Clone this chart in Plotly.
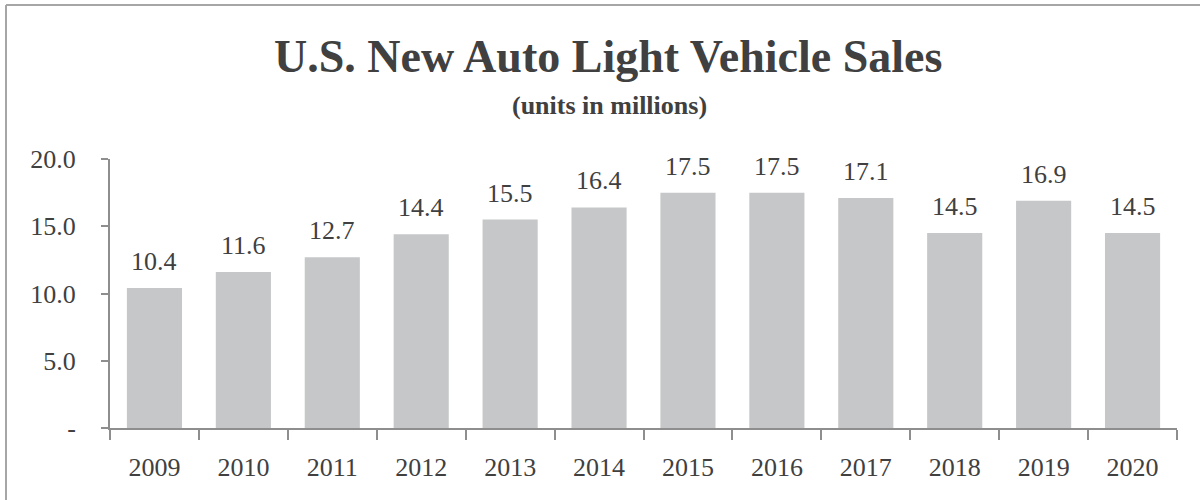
import plotly.graph_objects as go

years = ["2009", "2010", "2011", "2012", "2013", "2014", "2015", "2016", "2017", "2018", "2019", "2020"]
sales = [10.4, 11.6, 12.7, 14.4, 15.5, 16.4, 17.5, 17.5, 17.1, 14.5, 16.9, 14.5]
labels = ["10.4", "11.6", "12.7", "14.4", "15.5", "16.4", "17.5", "17.5", "17.1", "14.5", "16.9", "14.5"]
ytick_vals = [0, 5, 10, 15, 20]
ytick_text = ["-", "5.0", "10.0", "15.0", "20.0"]

FONT = "Liberation Serif, Times New Roman, serif"
TXT = "#404040"
AX = "#8E8E8E"

W, H = 1200, 500
L, R, T, B = 110, 23, 159, 72
pw, ph = W - L - R, H - T - B


def px_x(x):
    return (x - L) / pw


def px_y(y):
    return (H - B - y) / ph


fig = go.Figure(go.Bar(
    x=years, y=sales,
    marker=dict(color="#C6C7C8", line=dict(width=0)),
    cliponaxis=False, hoverinfo="x+y",
))

# annotation x uses the category index on the category axis
annotations = [
    dict(x=i, y=v, text=lab, xref="x", yref="y", xanchor="center", yanchor="bottom",
         yshift=10, showarrow=False, font=dict(family=FONT, size=26, color=TXT))
    for i, (v, lab) in enumerate(zip(sales, labels))
]
annotations += [
    dict(text="<b>U.S. New Auto Light Vehicle Sales</b>", xref="paper", yref="paper",
         x=px_x(608), y=px_y(57), xanchor="center", yanchor="middle", showarrow=False,
         font=dict(family=FONT, size=46, color=TXT)),
    dict(text="<b>(units in millions)</b>", xref="paper", yref="paper",
         x=px_x(609), y=px_y(106), xanchor="center", yanchor="middle", showarrow=False,
         font=dict(family=FONT, size=26, color=TXT)),
]

fig.update_layout(
    width=W, height=H,
    margin=dict(l=L, r=R, t=T, b=B, autoexpand=False),
    paper_bgcolor="white", plot_bgcolor="white",
    bargap=0.38,
    showlegend=False,
    font=dict(family=FONT, color=TXT),
    xaxis=dict(
        type="category", showgrid=False, zeroline=False,
        range=[-0.5, len(years) - 0.5], tickangle=0,
        showline=True, linecolor=AX, linewidth=2,
        ticks="outside", ticklen=10, tickcolor=AX, tickwidth=2,
        tickson="boundaries",
        tickfont=dict(family=FONT, size=26, color=TXT),
        ticklabelstandoff=15,
    ),
    yaxis=dict(
        range=[0, 20], showgrid=False, zeroline=False,
        showline=True, linecolor=AX, linewidth=2,
        ticks="outside", ticklen=7, tickcolor=AX, tickwidth=2,
        tickvals=ytick_vals, ticktext=ytick_text,
        tickfont=dict(family=FONT, size=26, color=TXT),
        ticklabelstandoff=20,
    ),
    annotations=annotations,
    shapes=[
        dict(type="line", xref="paper", yref="paper", x0=px_x(6), x1=px_x(1205),
             y0=px_y(5), y1=px_y(5), line=dict(color="#A6A6A6", width=2)),
        dict(type="line", xref="paper", yref="paper", x0=px_x(6), x1=px_x(6),
             y0=px_y(5), y1=px_y(505), line=dict(color="#A6A6A6", width=2)),
    ],
)

fig.write_html("out.html")
